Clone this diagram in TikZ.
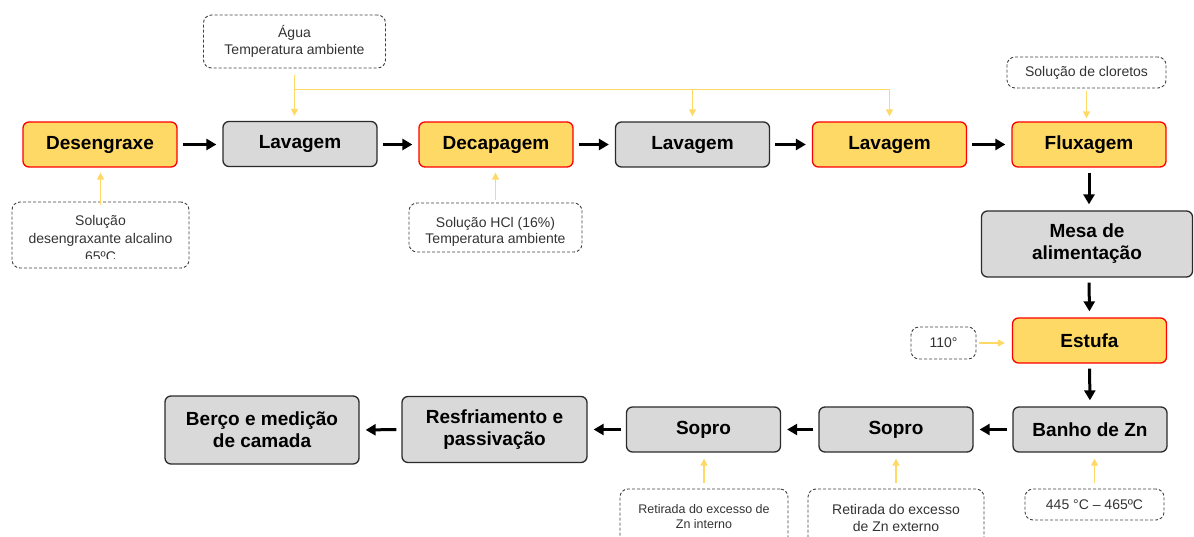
\documentclass[tikz,border=0pt]{standalone}
\usepackage{fontspec}
\setmainfont{Liberation Sans}
\usetikzlibrary{arrows.meta,positioning}
\definecolor{boxyellow}{HTML}{FFD966}
\definecolor{boxgray}{HTML}{D9D9D9}
\definecolor{edgegray}{HTML}{2B2B2B}
\definecolor{feedyellow}{HTML}{FFD966}
\tikzset{
  procbox/.style={rounded corners=6pt, line width=1.3pt, minimum width=154pt,
    minimum height=45pt, align=center, inner sep=0pt,
    font=\fontsize{19}{22}\selectfont\bfseries},
  yelbox/.style={procbox, draw=red, fill=boxyellow},
  graybox/.style={procbox, draw=edgegray, fill=boxgray},
  notebox/.style={draw=black!75, dash pattern=on 3pt off 2pt, rounded corners=8pt,
    line width=0.9pt, align=center, inner sep=0pt, text=black!80,
    font=\fontsize{14}{17}\selectfont},
  notetext/.style={align=center, inner sep=0pt, text=black!80,
    font=\fontsize{14}{17}\selectfont},
  flow/.style={-{Triangle[length=10pt,width=11pt]}, line width=3pt,
    shorten <=5pt, shorten >=6pt},
  feed/.style={-{Triangle[length=7pt,width=7pt]}, feedyellow, line width=1.4pt,
    shorten <=4pt, shorten >=5pt},
}
\begin{document}
\begin{tikzpicture}[x=1pt,y=-1pt]
  \useasboundingbox (0,0) rectangle (1194,537);
  \clip (0,0) rectangle (1194,537);
  % Process steps, top row
  \node[yelbox] (desengraxe) at (100,144.5) {Desengraxe};
  \node[graybox] (lavagemA) at (300,144) {Lavagem};
  \node[yelbox] (decapagem) at (496,144.5) {Decapagem};
  \node[graybox] (lavagemB) at (692.5,144.5) {Lavagem};
  \node[yelbox] (lavagemC) at (889.5,144.5) {Lavagem};
  \node[yelbox] (fluxagem) at (1089,144.5) {Fluxagem};
  % Right column
  \node[graybox, minimum width=211pt, minimum height=66pt] (mesa) at (1087,244) {Mesa de\\alimenta\c{c}\~ao};
  \node[yelbox] (estufa) at (1089.5,340.5) {Estufa};
  % Bottom row
  \node[graybox] (banho) at (1090,429.5) {Banho de Zn};
  \node[graybox] (soproB) at (896,429.5) {Sopro};
  \node[graybox] (soproA) at (703.5,429.5) {Sopro};
  \node[graybox, minimum width=185pt, minimum height=66pt] (resfriamento) at (494.5,429.5) {Resfriamento e\\passiva\c{c}\~ao};
  \node[graybox, minimum width=194pt, minimum height=68pt] (berco) at (262,430) {Ber\c{c}o e medi\c{c}\~ao\\de camada};

  % Main flow
  \draw[flow] (desengraxe.east) -- (lavagemA.west |- desengraxe.east);
  \draw[flow] (lavagemA.east |- decapagem.west) -- (decapagem.west);
  \draw[flow] (decapagem.east) -- (lavagemB.west);
  \draw[flow] (lavagemB.east) -- (lavagemC.west);
  \draw[flow] (lavagemC.east) -- (fluxagem.west);
  \draw[flow] (fluxagem.south) -- (fluxagem.south |- mesa.north);
  \draw[flow] (fluxagem.south |- mesa.south) -- (estufa.north);
  \draw[flow] (estufa.south) -- (banho.north);
  \draw[flow] (banho.west) -- (soproB.east);
  \draw[flow] (soproB.west) -- (soproA.east);
  \draw[flow] (soproA.west) -- (resfriamento.east);
  \draw[flow] (resfriamento.west) -- (berco.east);

  % Inputs
  \node[notebox, minimum width=182pt, minimum height=53pt] (aguanote) at (294.5,41.5) {\'Agua\\Temperatura ambiente};
  \path (aguanote.south) ++(0,21) coordinate (waterjoin);
  \draw[feed, shorten <=7pt] (aguanote.south) -- (aguanote.south |- lavagemA.north);
  \draw[feed, shorten <=0pt] (waterjoin) -| (lavagemB.north);
  \draw[feed, shorten <=0pt] (waterjoin) -| (lavagemC.north);

  \node[notebox, minimum width=177pt, minimum height=66pt] (desnote) at (100.5,235) {};
  \begin{scope}
    \clip (12,202) rectangle (189,259);
    \node[notetext, font=\fontsize{14}{18}\selectfont] (destext) at (100.5,238) {Solu\c{c}\~ao\\desengraxante alcalino\\65ºC};
  \end{scope}
  \draw[feed, shorten <=-3pt] (desnote.north) -- (desnote.north |- desengraxe.south);

  \node[notebox, minimum width=173pt, minimum height=49pt] (hclnote) at (495.5,227.5) {};
  \begin{scope}
    \clip (409,203) rectangle (582,246);
    \node[notetext, font=\fontsize{14}{16}\selectfont] (hcltext) at (495.5,232) {Solu\c{c}\~ao HCl (16\%)\\Temperatura ambiente};
  \end{scope}
  \draw[feed, shorten <=3pt] (hclnote.north) -- (hclnote.north |- decapagem.south);

  \node[notebox, minimum width=159pt, minimum height=31pt] (cloretosnote) at (1086.5,72.5) {Solu\c{c}\~ao de cloretos};
  \draw[feed, shorten <=3pt, shorten >=3pt] (cloretosnote.south) -- (cloretosnote.south |- fluxagem.north);

  \node[notebox, minimum width=65pt, minimum height=32pt] (tempnote) at (943.5,343) {110°};
  \draw[feed, shorten <=3pt, shorten >=7pt] (tempnote.east) -- (tempnote.east -| estufa.west);

  \node[notebox, minimum width=139pt, minimum height=31pt] (banhonote) at (1094.5,504.5) {445 °C -- 465ºC};
  \draw[feed, shorten <=6pt, shorten >=6pt] (banhonote.north) -- (banhonote.north |- banho.south);

  \node[notebox, minimum width=176pt, minimum height=71pt] (soproBnote) at (896,524.5) {};
  \node[notetext] (soproBtext) at (896,518) {Retirada do excesso\\de Zn externo};
  \draw[feed, shorten <=6pt, shorten >=6pt] (soproBnote.north) -- (soproBnote.north |- soproB.south);

  \node[notebox, minimum width=168pt, minimum height=71pt] (soproAnote) at (704,524.5) {};
  \node[notetext, font=\fontsize{12.5}{15}\selectfont] (soproAtext) at (704,517) {Retirada do excesso de\\Zn interno};
  \draw[feed, shorten <=6pt, shorten >=6pt] (soproAnote.north) -- (soproAnote.north |- soproA.south);
\end{tikzpicture}
\end{document}
